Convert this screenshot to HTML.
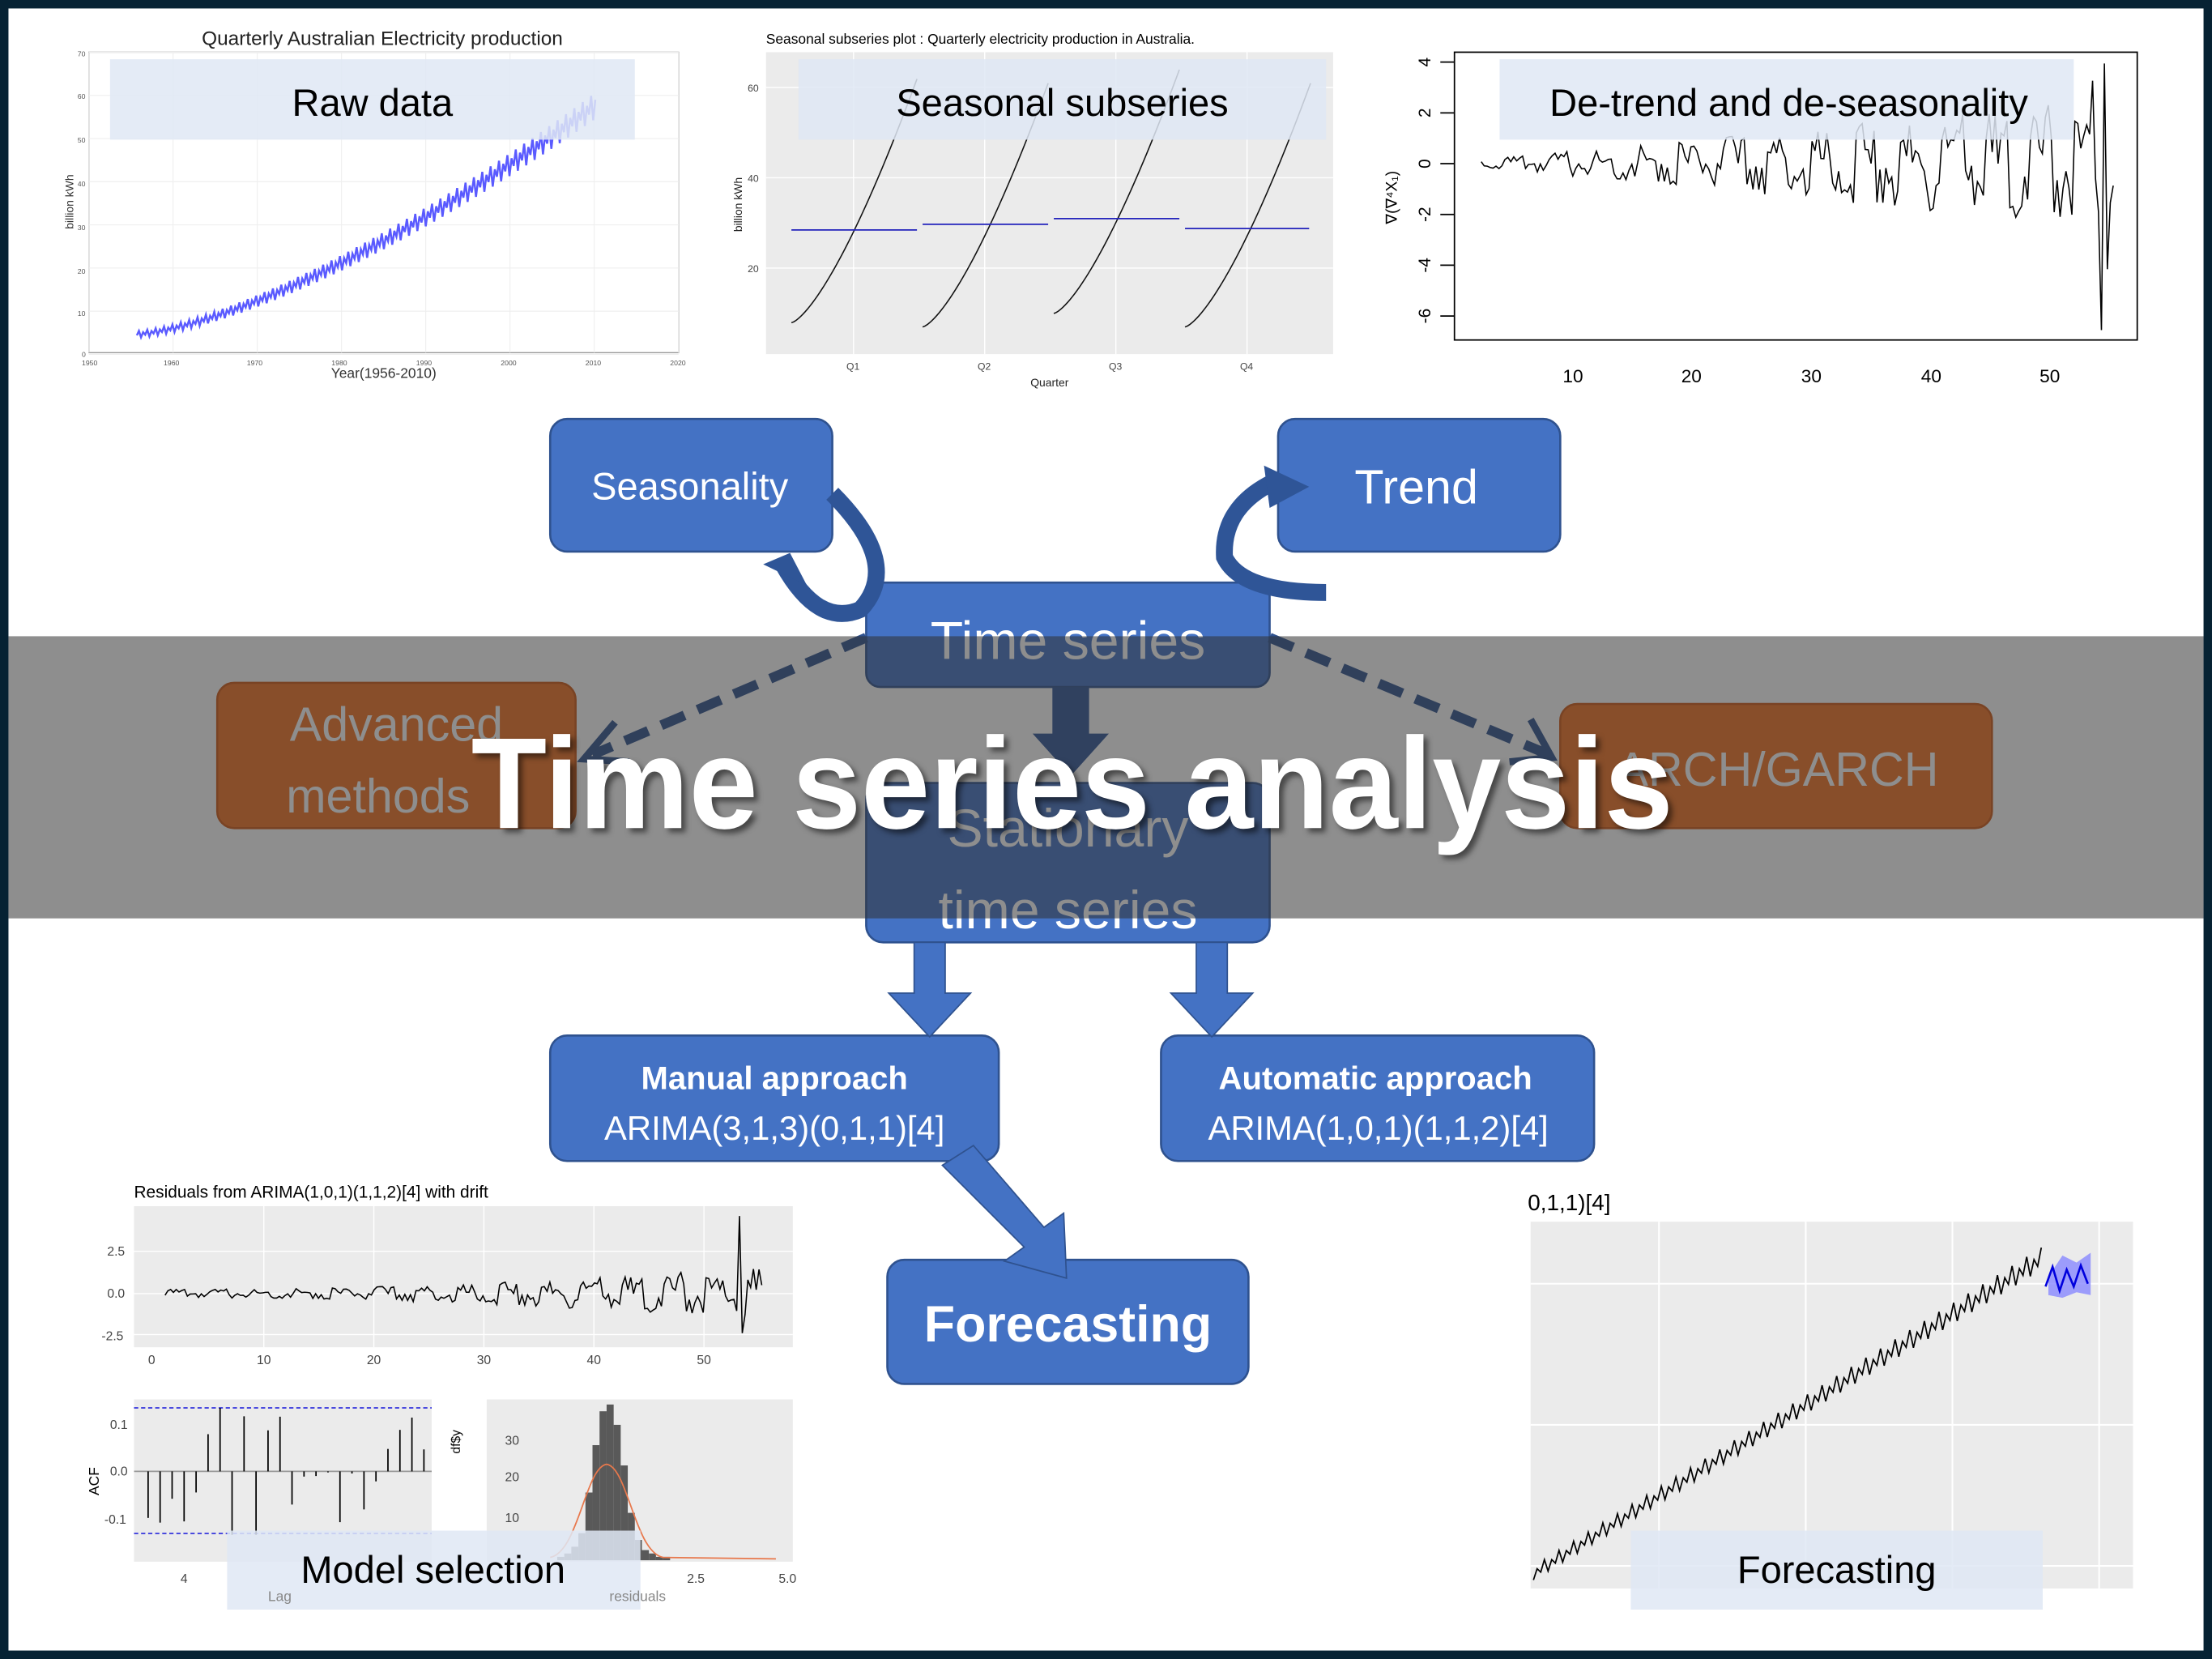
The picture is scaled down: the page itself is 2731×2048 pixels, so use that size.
<!DOCTYPE html>
<html><head><meta charset="utf-8"><style>
html,body{margin:0;padding:0;background:#062233;}
svg{display:block}
text{font-family:"Liberation Sans",sans-serif}
</style></head><body>
<svg id="s" width="2731" height="2048" viewBox="0 0 1568 1176" preserveAspectRatio="none" xmlns="http://www.w3.org/2000/svg">
<rect x="0" y="0" width="1568" height="1176" fill="#062233"/>
<rect x="6" y="6" width="1556" height="1164" fill="#fff"/>

<!-- Raw data chart -->
<text x="271" y="32" font-size="14" font-family="Liberation Serif" text-anchor="middle" fill="#222">Quarterly Australian Electricity production</text>
<rect x="63" y="37" width="418" height="213" fill="#fff" stroke="#999" stroke-width="0.8"/>
<g stroke="#eee" stroke-width="0.6" id="rawgrid"></g>
<g font-size="5" fill="#555" font-family="Liberation Serif">
<text x="55" y="40">70</text><text x="55" y="70">60</text><text x="55" y="101">50</text><text x="55" y="132">40</text><text x="55" y="163">30</text><text x="55" y="194">20</text><text x="55" y="224">10</text><text x="58" y="253">0</text>
<text x="58" y="259">1950</text><text x="116" y="259">1960</text><text x="175" y="259">1970</text><text x="235" y="259">1980</text><text x="295" y="259">1990</text><text x="355" y="259">2000</text><text x="415" y="259">2010</text><text x="475" y="259">2020</text>
</g>
<text x="272" y="268" font-size="10" font-family="Liberation Serif" text-anchor="middle" fill="#333">Year(1956-2010)</text>
<text transform="translate(52,143) rotate(-90)" font-size="8" font-family="Liberation Serif" text-anchor="middle" fill="#333">billion kWh</text>
<polyline id="raw" fill="none" stroke="#5a5aff" stroke-width="1.4"/>
<rect x="78" y="42" width="372" height="57" fill="#dfe8f5" opacity="0.85"/>
<text x="264" y="82" font-size="27" text-anchor="middle" fill="#000">Raw data</text>

<!-- Seasonal subseries -->
<text x="543" y="31" font-size="10" fill="#000">Seasonal subseries plot : Quarterly electricity production in Australia.</text>
<rect x="543" y="37" width="402" height="214" fill="#ebebeb"/>
<g stroke="#fff" stroke-width="0.8"><line x1="543" y1="62" x2="945" y2="62"/><line x1="543" y1="126" x2="945" y2="126"/><line x1="543" y1="190" x2="945" y2="190"/><line x1="605" y1="37" x2="605" y2="251"/><line x1="698" y1="37" x2="698" y2="251"/><line x1="791" y1="37" x2="791" y2="251"/><line x1="884" y1="37" x2="884" y2="251"/></g>
<g id="ss" fill="none" stroke="#111" stroke-width="0.9"></g>
<g stroke="#2222bb" stroke-width="1"><line x1="561" y1="163" x2="650" y2="163"/><line x1="654" y1="159" x2="743" y2="159"/><line x1="747" y1="155" x2="836" y2="155"/><line x1="840" y1="162" x2="928" y2="162"/></g>
<g font-size="7" fill="#444"><text x="530" y="65">60</text><text x="530" y="129">40</text><text x="530" y="193">20</text><text x="600" y="262">Q1</text><text x="693" y="262">Q2</text><text x="786" y="262">Q3</text><text x="879" y="262">Q4</text></g>
<text x="744" y="274" font-size="8" text-anchor="middle" fill="#222">Quarter</text>
<text transform="translate(526,145) rotate(-90)" font-size="8" text-anchor="middle" fill="#222">billion kWh</text>
<rect x="566" y="42" width="374" height="57" fill="#dfe8f5" opacity="0.85"/>
<text x="753" y="82" font-size="27" text-anchor="middle" fill="#000">Seasonal subseries</text>

<!-- De-trend -->
<rect x="1031" y="37" width="484" height="204" fill="#fff" stroke="#000" stroke-width="1"/>
<polyline id="dt" fill="none" stroke="#000" stroke-width="0.9"/>
<g font-size="12" fill="#000"><text transform="translate(1014,44) rotate(-90)" text-anchor="middle">4</text><text transform="translate(1014,80) rotate(-90)" text-anchor="middle">2</text><text transform="translate(1014,116) rotate(-90)" text-anchor="middle">0</text><text transform="translate(1014,152) rotate(-90)" text-anchor="middle">-2</text><text transform="translate(1014,188) rotate(-90)" text-anchor="middle">-4</text><text transform="translate(1014,224) rotate(-90)" text-anchor="middle">-6</text></g>
<g stroke="#000"><line x1="1021" y1="44" x2="1031" y2="44"/><line x1="1021" y1="80" x2="1031" y2="80"/><line x1="1021" y1="116" x2="1031" y2="116"/><line x1="1021" y1="152" x2="1031" y2="152"/><line x1="1021" y1="188" x2="1031" y2="188"/><line x1="1021" y1="224" x2="1031" y2="224"/></g>
<g font-size="13" fill="#000" text-anchor="middle"><text x="1115" y="271">10</text><text x="1199" y="271">20</text><text x="1284" y="271">30</text><text x="1369" y="271">40</text><text x="1453" y="271">50</text></g>
<text transform="translate(990,140) rotate(-90)" font-size="11" text-anchor="middle">∇(∇⁴X₁)</text>
<rect x="1063" y="42" width="407" height="57" fill="#dfe8f5" opacity="0.85"/>
<text x="1268" y="82" font-size="27" text-anchor="middle" fill="#000">De-trend and de-seasonality</text>

<!-- Flow boxes -->
<g stroke="#2f528f" stroke-width="1.5">
<rect x="390" y="297" width="200" height="94" rx="12" fill="#4472c4"/>
<rect x="906" y="297" width="200" height="94" rx="12" fill="#4472c4"/>
<rect x="614" y="413" width="286" height="74" rx="10" fill="#4472c4"/>
<rect x="154" y="484" width="254" height="103" rx="12" fill="#f27222" stroke="#d05a15"/>
<rect x="1106" y="499" width="306" height="88" rx="12" fill="#f27222" stroke="#d05a15"/>
<rect x="614" y="555" width="286" height="113" rx="12" fill="#4472c4"/>
<rect x="390" y="734" width="318" height="89" rx="12" fill="#4472c4"/>
<rect x="823" y="734" width="307" height="89" rx="12" fill="#4472c4"/>
<rect x="629" y="893" width="256" height="88" rx="12" fill="#4472c4"/>
</g>
<!-- curved arrows -->
<path d="M590,350 Q640,400 610,432 Q580,445 555,400" fill="none" stroke="#2f5597" stroke-width="12"/>
<path d="M541,400 L560,392 L572,415 Z" fill="#2f5597"/>
<path d="M940,420 Q880,420 868,395 Q866,360 902,342" fill="none" stroke="#2f5597" stroke-width="12"/>
<path d="M896,330 L928,345 L900,360 Z" fill="#2f5597"/>
<!-- down arrows -->
<path d="M746,487 H772 V520 H786 L759,550 L732,520 H746 Z" fill="#2f5597"/>
<path d="M648,668 H670 V704 H688 L659,735 L630,704 H648 Z" fill="#4472c4" stroke="#2f528f"/>
<path d="M848,668 H870 V704 H888 L859,735 L830,704 H848 Z" fill="#4472c4" stroke="#2f528f"/>
<path d="M668,826 L690,812 L740,870 L754,860 L756,906 L712,894 L726,884 Z" fill="#4472c4" stroke="#2f528f"/>
<!-- dashed -->
<path d="M614,452 L420,535" stroke="#2f528f" stroke-width="7" stroke-dasharray="18,10" fill="none"/>
<path d="M436,512 L414,538 L446,540" stroke="#2f528f" stroke-width="5" fill="none"/>
<path d="M900,452 L1098,535" stroke="#2f528f" stroke-width="7" stroke-dasharray="18,10" fill="none"/>
<path d="M1070,540 L1100,537 L1085,510" stroke="#2f528f" stroke-width="5" fill="none"/>

<g fill="#fff" text-anchor="middle" font-family="DejaVu Sans">
<text x="489" y="354" font-size="27">Seasonality</text>
<text x="1004" y="357" font-size="34">Trend</text>
<text x="757" y="467" font-size="38">Time series</text>
<text x="281" y="525" font-size="34">Advanced</text>
<text x="268" y="576" font-size="34">methods</text>
<text x="1260" y="557" font-size="34">ARCH/GARCH</text>
<text x="757" y="600" font-size="38">Stationary</text>
<text x="757" y="658" font-size="38">time series</text>
<text x="549" y="772" font-size="23" font-weight="bold">Manual approach</text>
<text x="549" y="808" font-size="24">ARIMA(3,1,3)(0,1,1)[4]</text>
<text x="975" y="772" font-size="23" font-weight="bold">Automatic approach</text>
<text x="977" y="808" font-size="24">ARIMA(1,0,1)(1,1,2)[4]</text>
<text x="757" y="951" font-size="36" font-weight="bold">Forecasting</text>
</g>

<!-- band -->
<rect x="6" y="451" width="1556" height="200" fill="rgb(50,50,50)" fill-opacity="0.55"/>
<text x="760" y="587" font-size="92" font-weight="bold" fill="#fff" text-anchor="middle" textLength="852" lengthAdjust="spacingAndGlyphs" style="filter:drop-shadow(3px 3px 2px rgba(0,0,0,0.5))">Time series analysis</text>

<!-- bottom left -->
<text x="95" y="849" font-size="12" fill="#000">Residuals from ARIMA(1,0,1)(1,1,2)[4] with drift</text>
<rect x="95" y="855" width="467" height="100" fill="#ebebeb"/>
<g stroke="#fff" stroke-width="0.8"><line x1="95" y1="887" x2="562" y2="887"/><line x1="95" y1="917" x2="562" y2="917"/><line x1="95" y1="946" x2="562" y2="946"/><line x1="187" y1="855" x2="187" y2="955"/><line x1="265" y1="855" x2="265" y2="955"/><line x1="343" y1="855" x2="343" y2="955"/><line x1="421" y1="855" x2="421" y2="955"/><line x1="499" y1="855" x2="499" y2="955"/></g>
<polyline id="res" fill="none" stroke="#000" stroke-width="0.9"/>
<g font-size="9" fill="#444"><text x="76" y="890">2.5</text><text x="76" y="920">0.0</text><text x="72" y="950">-2.5</text><text x="105" y="967">0</text><text x="182" y="967">10</text><text x="260" y="967">20</text><text x="338" y="967">30</text><text x="416" y="967">40</text><text x="494" y="967">50</text></g>
<rect x="95" y="992" width="211" height="115" fill="#ebebeb"/>
<line x1="95" y1="998" x2="306" y2="998" stroke="#3333dd" stroke-dasharray="3,2"/>
<line x1="95" y1="1087" x2="306" y2="1087" stroke="#3333dd" stroke-dasharray="3,2"/>
<line x1="95" y1="1043" x2="306" y2="1043" stroke="#999"/>
<g id="acf" stroke="#000" stroke-width="1"></g>
<g font-size="9" fill="#444"><text x="78" y="1013">0.1</text><text x="78" y="1046">0.0</text><text x="74" y="1080">-0.1</text><text x="128" y="1122">4</text></g>
<text transform="translate(70,1050) rotate(-90)" font-size="10" text-anchor="middle">ACF</text>
<rect x="345" y="992" width="217" height="115" fill="#ebebeb"/>
<g id="hist" fill="#595959"></g>
<path d="M390,1104 C410,1100 415,1040 430,1038 C445,1040 450,1100 470,1104 L550,1105" stroke="#e8784c" fill="none" stroke-width="1"/>
<g font-size="9" fill="#444"><text x="358" y="1024">30</text><text x="358" y="1050">20</text><text x="358" y="1079">10</text><text x="487" y="1122">2.5</text><text x="552" y="1122">5.0</text></g>
<text transform="translate(326,1022) rotate(-90)" font-size="9" text-anchor="middle">df$y</text>
<rect x="161" y="1085" width="293" height="56" fill="#dfe8f5" opacity="0.85"/>
<text x="307" y="1122" font-size="27" text-anchor="middle" fill="#000">Model selection</text>
<text x="190" y="1135" font-size="10" fill="#888">Lag</text><text x="432" y="1135" font-size="10" fill="#888">residuals</text>

<!-- bottom right -->
<text x="1083" y="858" font-size="16" fill="#000">0,1,1)[4]</text>
<rect x="1085" y="866" width="427" height="260" fill="#ebebeb"/>
<g stroke="#fff" stroke-width="1.2"><line x1="1085" y1="910" x2="1512" y2="910"/><line x1="1085" y1="1010" x2="1512" y2="1010"/><line x1="1085" y1="1110" x2="1512" y2="1110"/><line x1="1176" y1="866" x2="1176" y2="1126"/><line x1="1280" y1="866" x2="1280" y2="1126"/><line x1="1384" y1="866" x2="1384" y2="1126"/><line x1="1488" y1="866" x2="1488" y2="1126"/></g>
<polyline id="fc" fill="none" stroke="#000" stroke-width="1"/>
<path d="M1452,905 L1462,890 L1472,895 L1482,888 L1482,918 L1472,916 L1462,920 L1452,918 Z" fill="#8888ff" opacity="0.8"/>
<polyline points="1450,912 1455,898 1460,915 1465,900 1470,912 1475,897 1480,910" fill="none" stroke="#0000dd" stroke-width="1.5"/>
<rect x="1156" y="1085" width="292" height="56" fill="#dfe8f5" opacity="0.85"/>
<text x="1302" y="1122" font-size="27" text-anchor="middle" fill="#000">Forecasting</text>
</svg>
<script>
function r(i){return Math.sin(i*12.9898+3.1)*43758.5453%1;}
var p=[];
for(var i=0;i<220;i++){var t=i/219;var v=4+52*Math.pow(t,1.45);var s=[0,1,-0.5,0.6][i%4]*(1+t*3);var x=97+t*325;p.push(x+","+(250-(v+s)*3.07));}
document.getElementById('raw').setAttribute('points',p.join(' '));
var g=document.getElementById('ss'),st=[561,654,747,840];
st.forEach(function(x0,k){var q=[];for(var i=0;i<55;i++){var t=i/54;var v=6+54*Math.pow(t,1.4)+(k==2?3:0);q.push((x0+t*89)+","+(251-(v)*3.2+ (k==0?-3:0)));}
var e=document.createElementNS('http://www.w3.org/2000/svg','polyline');e.setAttribute('points',q.join(' '));g.appendChild(e);});
var d=[];for(var i=0;i<215;i++){var t=i/214;var a=(0.15+t*2.4)*(r(i));var x=1050+t*448;var y=116-a*18;if(i>205)y=116-(r(i)*3)*36;if(i==210)y=234;if(i==211)y=45;d.push(x+","+y);}
document.getElementById('dt').setAttribute('points',d.join(' '));
var q=[];for(var i=0;i<215;i++){var t=i/214;var a=(0.3+t*t*1.6)*r(i+7);var y=917-a*10;if(i==206)y=862;if(i==207)y=945;q.push((117+t*423)+","+y);}
document.getElementById('res').setAttribute('points',q.join(' '));
var ac=document.getElementById('acf'),h='';
for(var i=0;i<24;i++){var x=105+i*8.5;var v=r(i+3)*40;if(i==7||i==9)v=-45;if(i==6)v=45;h+='<line x1="'+x+'" y1="1043" x2="'+x+'" y2="'+(1043-v)+'"/>';}
ac.innerHTML=h;
var hs=document.getElementById('hist'),hh='',hv=[1,2,4,8,20,34,44,46,40,28,14,6,3,2,1,1];
for(var i=0;i<hv.length;i++){hh+='<rect x="'+(395+i*5)+'" y="'+(1106-hv[i]*2.4)+'" width="5" height="'+(hv[i]*2.4)+'"/>';}
hs.innerHTML=hh;
var f=[];for(var i=0;i<140;i++){var t=i/139;var y=1120-t*220+([0,-8,-3,-12][i%4])*(0.8+t*0.5);f.push((1087+t*360)+","+y);}
document.getElementById('fc').setAttribute('points',f.join(' '));
var rg=document.getElementById('rawgrid'),gg='';for(var i=0;i<8;i++){gg+='<line x1="'+(63+i*59.7)+'" y1="37" x2="'+(63+i*59.7)+'" y2="250"/>';gg+='<line x1="63" y1="'+(37+i*30.6)+'" x2="481" y2="'+(37+i*30.6)+'"/>';}rg.innerHTML=gg;
</script>
</body></html>
